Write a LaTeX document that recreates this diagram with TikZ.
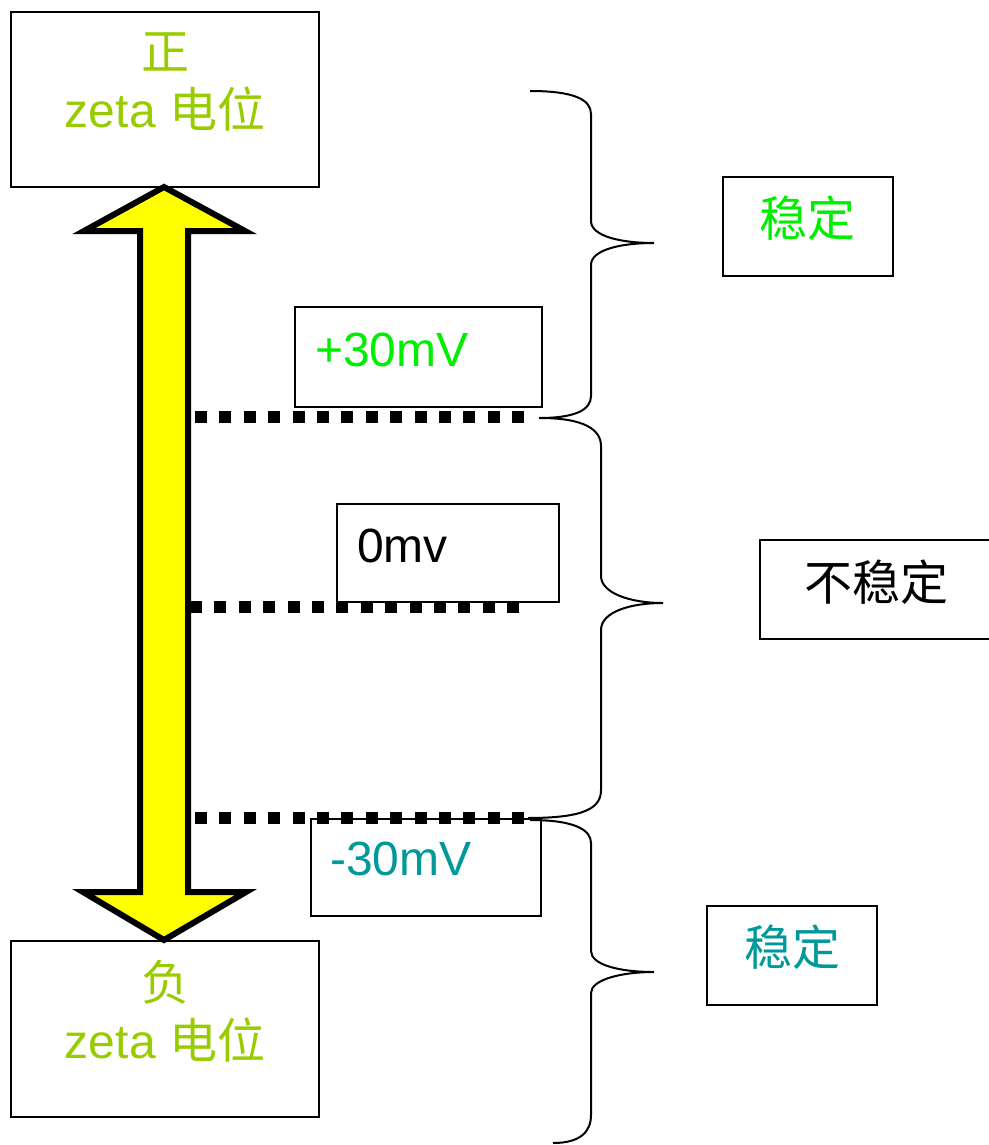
\documentclass[tikz,border=0pt]{standalone}
\usepackage{fontspec}
\setmainfont{Liberation Sans}
\newfontfamily\cjk{Noto Sans CJK SC}
\definecolor{ygreen}{HTML}{99CC00}
\definecolor{lgreen}{HTML}{00EE00}
\definecolor{teal2}{HTML}{009999}
\definecolor{arrowyellow}{HTML}{FFFF00}
\tikzset{
  boxframe/.style={draw=black, line width=2.5pt, fill=none, inner sep=0pt},
  bigtext/.style={font=\fontsize{48}{58}\selectfont, inner sep=0pt, align=center},
  dotline/.style={line width=12pt, dash pattern=on 12pt off 12.4pt},
  bracepath/.style={draw=black, line width=2pt},
}
\begin{document}
\begin{tikzpicture}[x=1pt,y=-1pt]
\useasboundingbox (0,0) rectangle (988,1145);
% end boxes
\node[boxframe, minimum width=308pt, minimum height=175pt] (topbox) at (165,99.5) {};
\node[bigtext, text=ygreen] (toptext) at (165,82) {{\cjk 正}\\zeta {\cjk 电位}};
\node[boxframe, minimum width=308pt, minimum height=176pt] (botbox) at (165,1029) {};
\node[bigtext, text=ygreen] (bottext) at (165,1011) {{\cjk 负}\\zeta {\cjk 电位}};
% double arrow
\draw[line width=6pt, fill=arrowyellow, line join=miter]
  (164,187) -- (245,231) -- (188,231) -- (188,892) -- (246,892) -- (164,940)
  -- (83,892) -- (140,892) -- (140,231) -- (84,231) -- cycle;
% value boxes
\node[boxframe, minimum width=247pt, minimum height=100pt] (pbox) at (418.5,357) {};
\node[bigtext, text=lgreen, anchor=base west] (ptext) at (315,366) {+30mV};
\node[boxframe, minimum width=222pt, minimum height=98pt] (zbox) at (448,553) {};
\node[bigtext, text=black, anchor=base west] (ztext) at (357,562) {0mv};
\node[boxframe, minimum width=230pt, minimum height=97pt] (nbox) at (426,867.5) {};
\node[bigtext, text=teal2, anchor=base west] (ntext) at (330,875) {-30mV};
% dotted levels
\coordinate (pa) at (195,417); \coordinate (pb) at (524,417);
\coordinate (za) at (190,607); \coordinate (zb) at (519,607);
\coordinate (na) at (195,818); \coordinate (nb) at (524,818);
\draw[dotline] (pa) -- (pb);
\draw[dotline] (za) -- (zb);
\draw[dotline] (na) -- (nb);
% stability boxes
\node[boxframe, minimum width=170pt, minimum height=99pt] (s1box) at (808,226.5) {};
\node[bigtext, text=lgreen] (s1text) at (807,218) {\cjk 稳定};
\node[boxframe, minimum width=240pt, minimum height=99pt] (ubox) at (880,589.5) {};
\node[bigtext, text=black] (utext) at (876,582) {\cjk 不稳定};
\node[boxframe, minimum width=170pt, minimum height=99pt] (s2box) at (792,955.5) {};
\node[bigtext, text=teal2] (s2text) at (792,947) {\cjk 稳定};
% braces
\draw[bracepath] (530,91) .. controls (575,91) and (591,100) .. (591,114) -- (591,221)
  .. controls (591,236) and (620,243) .. (654,243)
  .. controls (620,243) and (591,250) .. (591,265) -- (591,396)
  .. controls (591,410) and (575,418) .. (539,418);
\draw[bracepath] (540,418) .. controls (585,418) and (601,430) .. (601,446) -- (601,576)
  .. controls (601,593) and (630,603) .. (663,603)
  .. controls (630,603) and (601,612) .. (601,630) -- (601,790)
  .. controls (601,808) and (585,818) .. (528,818);
\draw[bracepath] (530,820) .. controls (575,820) and (591,830) .. (591,843) -- (591,951)
  .. controls (591,965) and (620,972) .. (654,972)
  .. controls (620,972) and (591,980) .. (591,993) -- (591,1115)
  .. controls (591,1132) and (580,1143) .. (553,1143);
\end{tikzpicture}
\end{document}
